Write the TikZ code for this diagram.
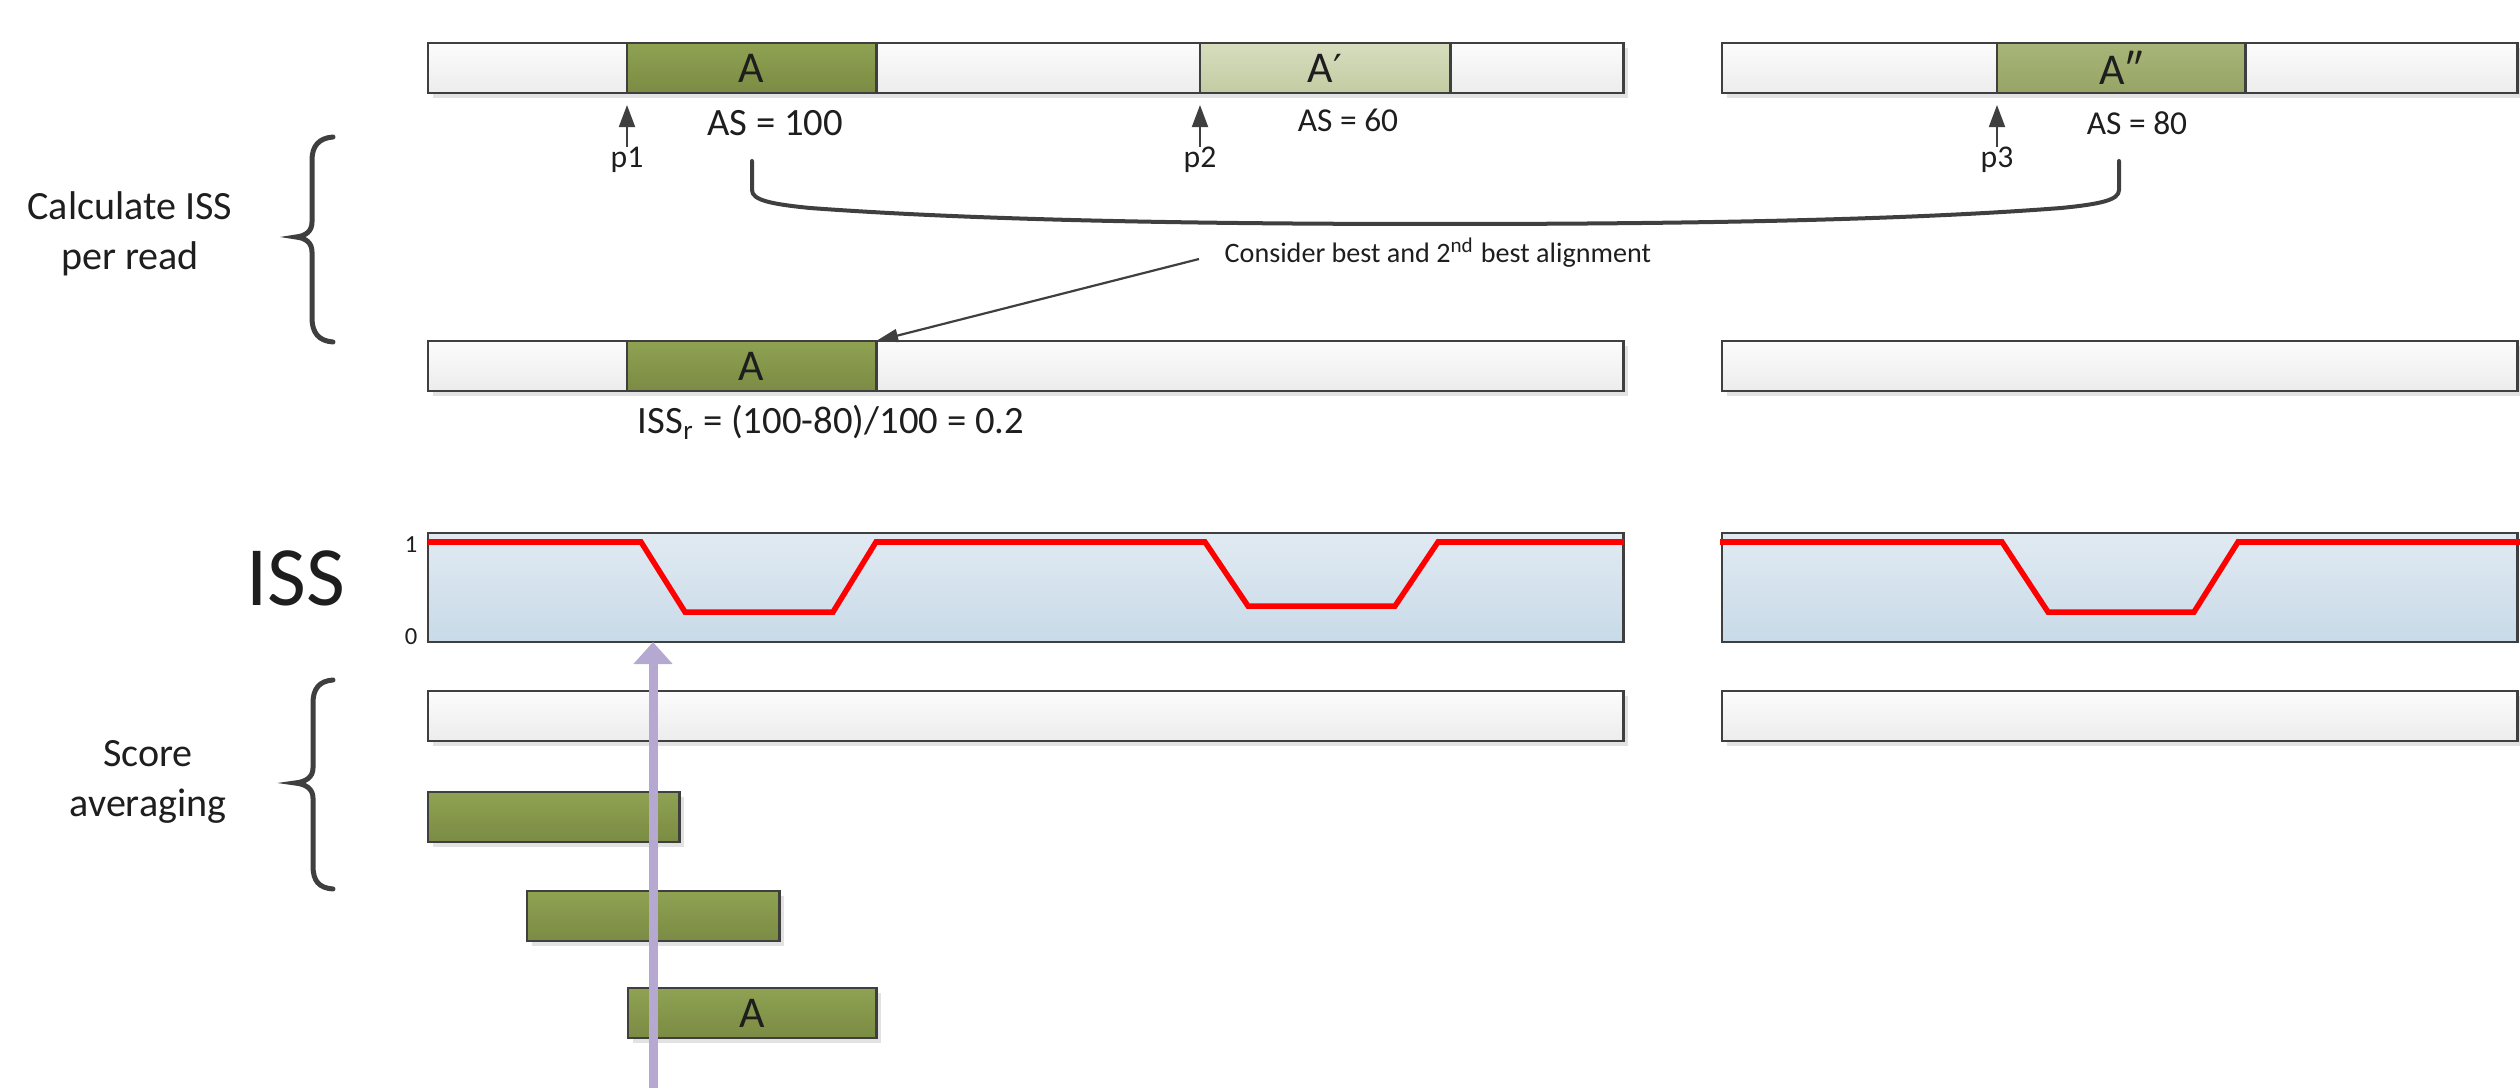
\documentclass[tikz,border=0pt]{standalone}
\usepackage{fontspec}
\setmainfont{Carlito}
\newfontfamily\primefont{DejaVu Sans}
\usetikzlibrary{arrows.meta,shadows}
\definecolor{edgec}{HTML}{3F3F3F}
\definecolor{barT}{HTML}{FCFCFC}
\definecolor{barB}{HTML}{ECECEC}
\definecolor{grT}{HTML}{8FA252}
\definecolor{grB}{HTML}{7B8B44}
\definecolor{lgT}{HTML}{D7DDBE}
\definecolor{lgB}{HTML}{C3CBA3}
\definecolor{mgT}{HTML}{A7B578}
\definecolor{mgB}{HTML}{96A566}
\definecolor{blT}{HTML}{E1EAF2}
\definecolor{blB}{HTML}{C8DAE8}
\definecolor{shadowc}{HTML}{E2E2E2}
\definecolor{purpc}{HTML}{B5A9D1}
\definecolor{txt}{HTML}{1E1E1E}
\begin{document}
\begin{tikzpicture}[x=0.01cm,y=-0.01cm,
  box/.style={draw=edgec, line width=0.28mm, anchor=north west, inner sep=0pt, outer sep=0pt,
    minimum height=5mm, text=txt, font=\fontsize{12.5}{14}\selectfont},
  plain/.style={box, top color=barT, bottom color=barB},
  shad/.style={general shadow={fill=shadowc, shadow xshift=0.45mm, shadow yshift=-0.5mm}},
  gA/.style={box, top color=grT, bottom color=grB},
  gAp/.style={box, top color=lgT, bottom color=lgB},
  gApp/.style={box, top color=mgT, bottom color=mgB},
  issbox/.style={box, minimum height=10.9mm, top color=blT, bottom color=blB},
  lbl/.style={inner sep=0pt, text=txt},
  sidetext/.style={lbl, align=center, font=\fontsize{11.4}{14.3}\selectfont},
  astext/.style={lbl, font=\fontsize{11}{13}\selectfont},
  assmall/.style={lbl, font=\fontsize{9.5}{11}\selectfont},
  ptext/.style={lbl, font=\fontsize{9}{11}\selectfont},
  ctext/.style={lbl, font=\fontsize{8}{10}\selectfont},
  bigtext/.style={lbl, font=\fontsize{24}{28}\selectfont},
  tinytext/.style={lbl, font=\fontsize{7}{8}\selectfont},
  parrow/.style={draw=edgec, line width=0.2mm, -{Triangle[width=1.6mm,length=2.2mm]}},
  carrow/.style={draw=edgec, line width=0.22mm, -{Triangle[width=1.3mm,length=2.2mm]}},
  purp/.style={draw=purpc, line width=0.9mm, -{Triangle[width=3.8mm,length=2.2mm]}},
  redline/.style={draw=red, line width=0.55mm, line join=miter},
  bracec/.style={draw=edgec, line width=0.5mm, line cap=round},
  hbrace/.style={draw=edgec, line width=0.4mm, line cap=round}
]
\useasboundingbox (0,0) rectangle (2520,1088);

% ---- row 1: alignments
\node[plain,shad,minimum width=119.5mm] (bar1) at (428,43) {};
\node[gA,minimum width=24.9mm] (A1) at (627,43) {A};
\node[gAp,minimum width=25mm] (Ap) at (1200,43) {A{\primefont\fontsize{11}{13}\selectfont ′}};
\node[plain,shad,minimum width=79.5mm] (bar1r) at (1722,43) {};
\node[gApp,minimum width=24.8mm] (App) at (1997,43) {A″};

\node[ptext,anchor=base] (p1) at (627,168) {p1};
\node[ptext,anchor=base] (p2) at (1200,168) {p2};
\node[ptext,anchor=base] (p3) at (1997,168) {p3};
\draw[parrow] (p1.north) -- ([yshift=-1.2mm]A1.south west);
\draw[parrow] (p2.north) -- ([yshift=-1.2mm]Ap.south west);
\draw[parrow] (p3.north) -- ([yshift=-1.2mm]App.south west);

\node[astext] (as1) at (775,123) {AS = 100};
\node[assmall] (as2) at (1348,120) {AS = 60};
\node[assmall] (as3) at (2137,123) {AS = 80};

% ---- horizontal brace
\coordinate (bl) at (752,161);
\coordinate (br) at (2119,161);
\draw[hbrace] (bl) -- (752,190) .. controls (752,200) and (770,204) .. (810,208)
  .. controls (1000,222) and (1250,224) .. (1440,224)
  .. controls (1630,224) and (1880,222) .. (2061,208)
  .. controls (2101,204) and (2119,200) .. (2119,190) -- (br);

% ---- row 2
\node[plain,shad,minimum width=119.5mm] (bar2) at (428,341) {};
\node[gA,minimum width=24.9mm] (A2) at (627,341) {A};
\node[plain,shad,minimum width=79.5mm] (bar2r) at (1722,341) {};
\node[astext] (issr) at (831,422) {ISS\textsubscript{r} = (100-80)/100 = 0.2};

\node[ctext,anchor=west] (cons) at (1224,253) {Consider best and 2\textsuperscript{nd} best alignment};
\draw[carrow] ([xshift=-2.5mm,yshift=-0.6mm]cons.west) -- (A2.north east);

% ---- left labels and braces
\node[sidetext] (calc) at (130,234) {Calculate ISS\\per read};
\draw[bracec] (333,137) .. controls (319,138) and (312,146) .. (312,160) -- (312,222)
  .. controls (312,231) and (306,236) .. (296,237)
  .. controls (306,238) and (312,243) .. (312,252) -- (312,318)
  .. controls (312,333) and (319,341) .. (333,342);

\node[sidetext] (score) at (148,782) {Score\\averaging};
\draw[bracec] (333,680) .. controls (319,681) and (313,689) .. (313,703) -- (313,768)
  .. controls (313,777) and (306,782) .. (295,783)
  .. controls (306,784) and (313,789) .. (313,798) -- (313,866)
  .. controls (313,881) and (319,888) .. (333,889);

% ---- ISS profile
\node[bigtext] (isslab) at (296,578) {ISS};
\node[issbox,minimum width=119.5mm] (iss1) at (428,533) {};
\node[issbox,minimum width=79.5mm] (iss2) at (1722,533) {};
\node[tinytext] (one) at (411,545) {1};
\node[tinytext] (zero) at (411,637) {0};
\draw[redline] (428,542) -- (641,542) -- (685,612) -- (833,612) -- (876,542) -- (1205,542)
  -- (1248,606) -- (1395,606) -- (1438,542) -- (1624,542);
\draw[redline] (1720,542) -- (2002,542) -- (2048,612) -- (2194,612) -- (2238,542) -- (2520,542);

% ---- score averaging
\node[plain,shad,minimum width=119.5mm] (bar3) at (428,691) {};
\node[plain,shad,minimum width=79.5mm] (bar3r) at (1722,691) {};
\node[gA,shad,minimum width=25.1mm] (g1) at (428,792) {};
\node[gA,shad,minimum width=25.2mm] (g2) at (527,891) {};
\node[gA,shad,minimum width=24.8mm] (g3) at (628,988) {A};

\coordinate (pbot) at (653,1088);
\draw[purp] (pbot) -- (iss1.south -| pbot);
\end{tikzpicture}
\end{document}
